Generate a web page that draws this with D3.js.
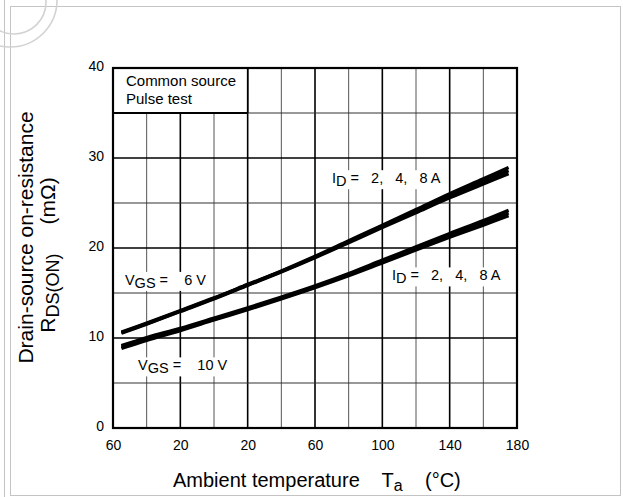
<!DOCTYPE html>
<html>
<head>
<meta charset="utf-8">
<script src="https://cdn.jsdelivr.net/npm/d3@7"></script>
<style>
  html, body { margin: 0; padding: 0; background: #fff; }
  svg { display: block; font-family: "Liberation Sans", Arial, Helvetica, sans-serif; }
  text { white-space: pre; }
</style>
</head>
<body>
<svg id="chart" width="623" height="497"></svg>
<script>
// ---- data ----
const temps = [-55, -40, -20, 0, 20, 40, 60, 80, 100, 120, 140, 160, 175];
const vgs6_id2  = [10.55, 11.55, 12.95, 14.35, 15.85, 17.35, 18.93, 20.6, 22.27, 23.93, 25.58, 27.12, 28.25];
const vgs6_id4  = [10.6, 11.6, 13.0, 14.4, 15.9, 17.4, 19.0, 20.7, 22.4, 24.1, 25.8, 27.4, 28.6];
const vgs6_id8  = [10.65, 11.65, 13.05, 14.45, 15.95, 17.45, 19.07, 20.8, 22.53, 24.27, 26.02, 27.68, 28.95];
const vgs10_id2 = [8.85, 9.75, 10.83, 12.0, 13.15, 14.35, 15.6, 16.93, 18.35, 19.78, 21.2, 22.55, 23.6];
const vgs10_id4 = [9.0, 9.9, 10.95, 12.1, 13.25, 14.45, 15.7, 17.05, 18.5, 19.95, 21.4, 22.8, 23.9];
const vgs10_id8 = [9.15, 10.05, 11.07, 12.2, 13.35, 14.55, 15.8, 17.17, 18.65, 20.12, 21.6, 23.05, 24.2];

const xTicks = [-60, -20, 20, 60, 100, 140, 180];
const xTickLabels = ["60", "20", "20", "60", "100", "140", "180"];
const yTicks = [0, 10, 20, 30, 40];
const yTickLabels = ["0", "10", "20", "30", "40"];
const xGrid = [-40, -20, 0, 20, 40, 60, 80, 100, 120, 140, 160];
const xGridMajor = [-20, 20, 60, 100, 140];
const yGrid = [5, 10, 15, 20, 25, 30, 35];

// ---- setup ----
const svg = d3.select("#chart");
const x = d3.scaleLinear().domain([-60, 180]).range([113, 517]);
const y = d3.scaleLinear().domain([0, 40]).range([428, 68]);

// page frame (scan border) and watermark
const frame = svg.append("g").attr("fill", "none").attr("stroke", "#c4c4c4").attr("stroke-width", 1);
frame.append("line").attr("x1", 4.5).attr("y1", 0).attr("x2", 4.5).attr("y2", 497);
frame.append("rect").attr("x", 10.5).attr("y", 6.5).attr("width", 610).attr("height", 489);
const wm = svg.append("g").attr("fill", "none").attr("stroke", "#d2d2d2").attr("stroke-width", 1.6);
wm.append("circle").attr("cx", 10).attr("cy", 0).attr("r", 47);
wm.append("circle").attr("cx", 14).attr("cy", 2).attr("r", 32);

// grid
const grid = svg.append("g");
grid.selectAll("line.vx").data(xGrid).join("line")
  .attr("x1", d => x(d)).attr("x2", d => x(d))
  .attr("y1", y(40)).attr("y2", y(0))
  .attr("stroke", d => xGridMajor.includes(d) ? "#000" : "#555")
  .attr("stroke-width", d => xGridMajor.includes(d) ? 1.6 : 1);
grid.selectAll("line.hy").data(yGrid).join("line")
  .attr("x1", x(-60)).attr("x2", x(180))
  .attr("y1", d => y(d)).attr("y2", d => y(d))
  .attr("stroke", d => d % 10 === 0 ? "#000" : "#333")
  .attr("stroke-width", d => d % 10 === 0 ? 1.6 : 1.2);

// legend box: Common source / Pulse test
svg.append("rect")
  .attr("x", x(-60)).attr("y", y(40))
  .attr("width", x(20) - x(-60)).attr("height", y(35) - y(40))
  .attr("fill", "#fff");
svg.append("line").attr("x1", x(-60)).attr("x2", x(20)).attr("y1", y(35)).attr("y2", y(35))
  .attr("stroke", "#000").attr("stroke-width", 2);
svg.append("line").attr("x1", x(20)).attr("x2", x(20)).attr("y1", y(40)).attr("y2", y(35))
  .attr("stroke", "#000").attr("stroke-width", 1.6);
svg.append("text").attr("x", x(-52.3)).attr("y", y(38.0)).attr("font-size", 15).text("Common source");
svg.append("text").attr("x", x(-52.3)).attr("y", y(36.05)).attr("font-size", 15).text("Pulse test");

// curves
const line = d3.line().x(d => x(d[0])).y(d => y(d[1])).curve(d3.curveCatmullRom.alpha(0.5));
const series = [vgs6_id2, vgs6_id4, vgs6_id8, vgs10_id2, vgs10_id4, vgs10_id8];
svg.append("g").selectAll("path").data(series).join("path")
  .attr("d", s => line(temps.map((t, i) => [t, s[i]])))
  .attr("fill", "none").attr("stroke", "#000").attr("stroke-width", 3.4);

// curve annotations (white background like the original)
function label(tx, ty, main, sub, rest, size) {
  const g = svg.append("g");
  const bg = g.append("rect").attr("fill", "#fff");
  const t = g.append("text").attr("x", x(tx)).attr("y", y(ty)).attr("font-size", size);
  t.append("tspan").text(main);
  t.append("tspan").attr("dy", 3).text(sub);
  t.append("tspan").attr("dy", -3).text(rest);
  const b = t.node().getBBox();
  bg.attr("x", b.x - 3).attr("y", b.y).attr("width", b.width + 6).attr("height", b.height);
}
label(70.1, 27.2, "I", "D", " =   2,   4,   8 A", 14.5);
label(105.7, 16.4, "I", "D", " =   2,   4,   8 A", 14.5);
label(-52.9, 15.9, "V", "GS", " =    6 V", 14.5);
label(-45.1, 6.4, "V", "GS", " =    10 V", 14.5);

// plot border
svg.append("rect")
  .attr("x", x(-60)).attr("y", y(40))
  .attr("width", x(180) - x(-60)).attr("height", y(0) - y(40))
  .attr("fill", "none").attr("stroke", "#000").attr("stroke-width", 2.2);

// axes
const xAxis = svg.append("g").attr("transform", `translate(0,${y(0)})`)
  .call(d3.axisBottom(x).tickValues(xTicks).tickFormat((d, i) => xTickLabels[i]).tickSize(0).tickPadding(12));
xAxis.select(".domain").remove();
xAxis.selectAll("text").attr("font-size", 14).attr("fill", "#000").attr("font-family", null);

const yAxis = svg.append("g").attr("transform", `translate(${x(-60)},0)`)
  .call(d3.axisLeft(y).tickValues(yTicks).tickFormat((d, i) => yTickLabels[i]).tickSize(0).tickPadding(9));
yAxis.select(".domain").remove();
yAxis.selectAll("text").attr("font-size", 14).attr("fill", "#000").attr("font-family", null).attr("dy", "0.15em");

// axis titles
const xt = svg.append("text").attr("x", 173).attr("y", 487).attr("font-size", 20);
xt.append("tspan").text("Ambient temperature    T");
xt.append("tspan").attr("dy", 4).attr("font-size", 16).text("a");
xt.append("tspan").attr("dy", -4).text("    (°C)");

svg.append("text")
  .attr("transform", "translate(33,237.5) rotate(-90)")
  .attr("text-anchor", "middle").attr("font-size", 21)
  .text("Drain-source on-resistance");
const yt2 = svg.append("text")
  .attr("transform", "translate(55,255) rotate(-90)")
  .attr("text-anchor", "middle").attr("font-size", 21);
yt2.append("tspan").text("R");
yt2.append("tspan").attr("dy", 4).attr("font-size", 18).text("DS(ON)");
yt2.append("tspan").attr("dy", -4).text("     (mΩ)");
</script>
</body>
</html>
